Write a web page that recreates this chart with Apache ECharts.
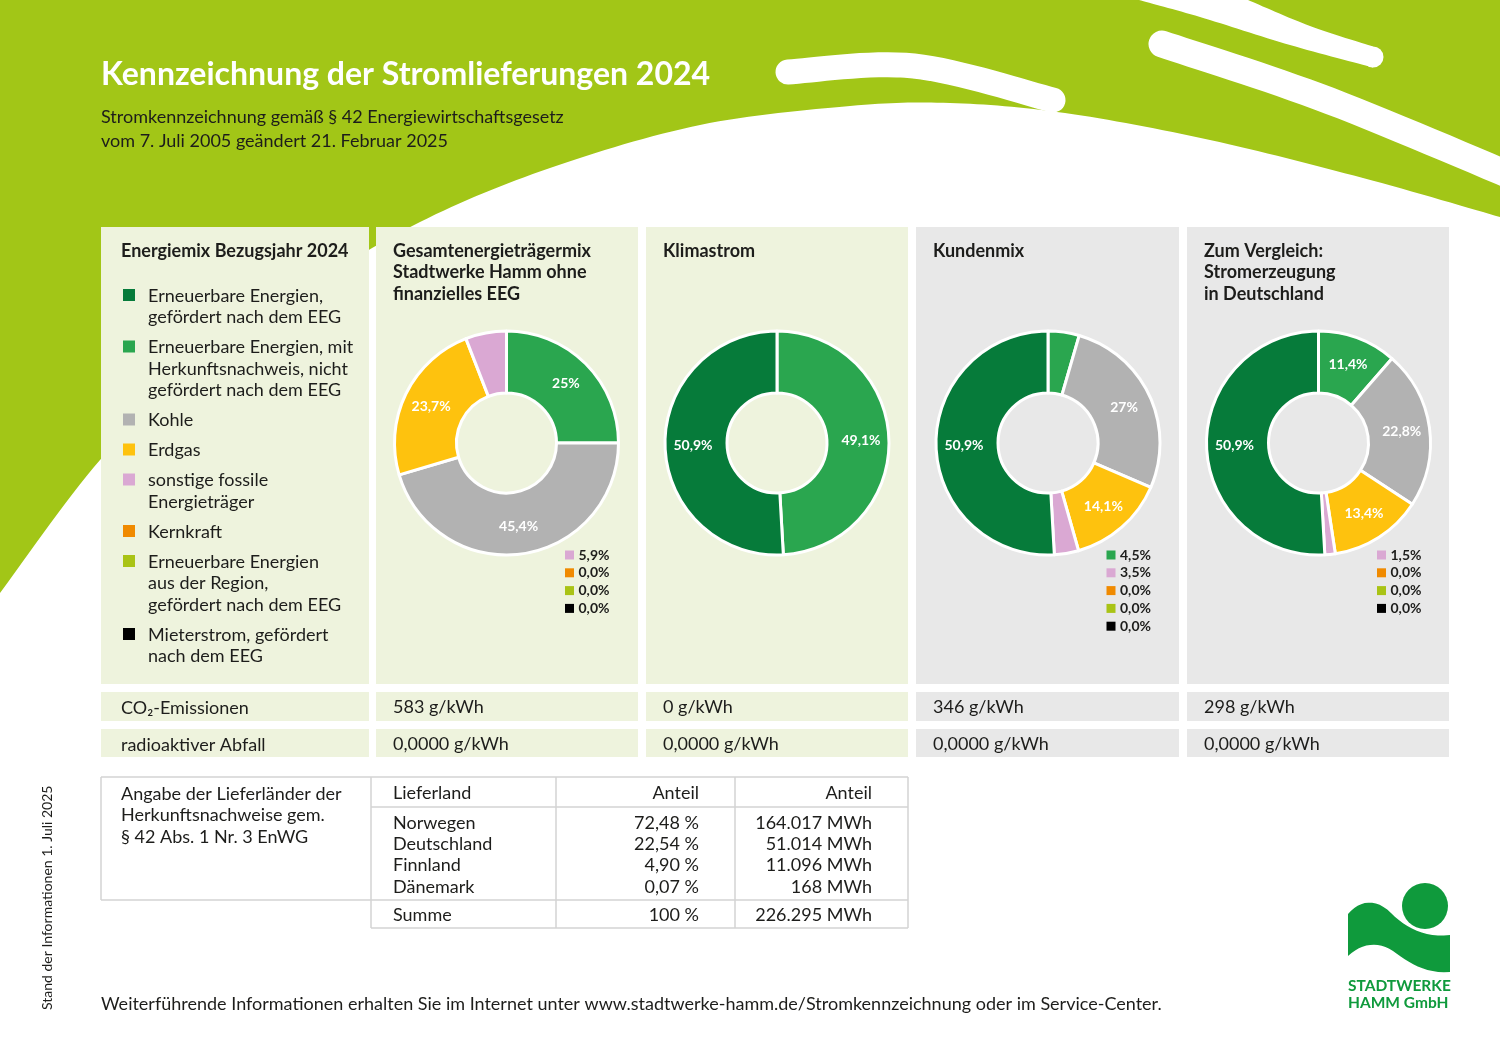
<!DOCTYPE html>
<html><head><meta charset="utf-8">
<script src="https://cdn.jsdelivr.net/npm/echarts@6/dist/echarts.min.js"></script>
<style>html,body{margin:0;padding:0;background:#fff}#c{width:1500px;height:1061px}</style>
</head><body><div id="c"></div>
<script>
// ---------- DATA ----------
const categories = ['Erneuerbare Energien, gefördert nach dem EEG','Erneuerbare Energien, mit Herkunftsnachweis, nicht gefördert nach dem EEG','Kohle','Erdgas','sonstige fossile Energieträger','Kernkraft','Erneuerbare Energien aus der Region, gefördert nach dem EEG','Mieterstrom, gefördert nach dem EEG'];
const legendLines = [['Erneuerbare Energien,','gefördert nach dem EEG'],['Erneuerbare Energien, mit','Herkunftsnachweis, nicht','gefördert nach dem EEG'],['Kohle'],['Erdgas'],['sonstige fossile','Energieträger'],['Kernkraft'],['Erneuerbare Energien','aus der Region,','gefördert nach dem EEG'],['Mieterstrom, gefördert','nach dem EEG']];
const colors = ['#067b3a','#2aa64f','#b2b2b2','#fec20e','#daa8d3','#f08a00','#a9c315','#000000'];
const gesamt      = [null, 25,   45.4, 23.7, 5.9, 0, 0, 0];
const klimastrom  = [50.9, 49.1, null, null, null, null, null, null];
const kundenmix   = [50.9, 4.5,  27,   14.1, 3.5, 0, 0, 0];
const deutschland = [50.9, 11.4, 22.8, 13.4, 1.5, 0, 0, 0];
const sliceOrder = [1,2,3,4,5,6,7,0];
const panelTitles = [['Gesamtenergieträgermix','Stadtwerke Hamm ohne','finanzielles EEG'],['Klimastrom'],['Kundenmix'],['Zum Vergleich:','Stromerzeugung','in Deutschland']];
const co2 = [583, 0, 346, 298];
const radio = [0, 0, 0, 0];
const countries = ['Norwegen','Deutschland','Finnland','Dänemark'];
const shares = [72.48, 22.54, 4.90, 0.07];
const mwh = [164017, 51014, 11096, 168];
const sumShare = 100, sumMwh = 226295;

// ---------- HELPERS ----------
const FONT = 'Lato, "Open Sans", sans-serif';
const TXT = '#1d1d1b';
const g = [];
function rect(x,y,w,h,fill,z){ g.push({type:'rect',z:z||1,shape:{x,y,width:w,height:h},style:{fill}}); }
function line(x1,y1,x2,y2){ g.push({type:'line',z:3,shape:{x1,y1,x2,y2},style:{stroke:'#d3d3d3',lineWidth:1.5}}); }
function text(x,y,str,o){ o=o||{}; g.push({type:'text',z:o.z||4,x,y,rotation:o.rot||0,style:{text:str,fill:o.fill||TXT,
  font:(o.bold?'bold ':'')+(o.size||18)+'px '+FONT,textAlign:o.align||'left',textVerticalAlign:'middle'}}); }
function cubic(p0,c1,c2,p1,n){ const out=[]; for(let i=0;i<=n;i++){const t=i/n,u=1-t;
  out.push([u*u*u*p0[0]+3*u*u*t*c1[0]+3*u*t*t*c2[0]+t*t*t*p1[0], u*u*u*p0[1]+3*u*u*t*c1[1]+3*u*t*t*c2[1]+t*t*t*p1[1]]);} return out; }
function smoothPts(pts){ let out=[]; for(let i=0;i<pts.length-1;i++){const p0=pts[i-1]||pts[i],p1=pts[i],p2=pts[i+1],p3=pts[i+2]||pts[i+1];
  out=out.concat(cubic(p1,[p1[0]+(p2[0]-p0[0])/6,p1[1]+(p2[1]-p0[1])/6],[p2[0]-(p3[0]-p1[0])/6,p2[1]-(p3[1]-p1[1])/6],p2,16));} return out; }
const pct1 = v => v.toFixed(1).replace('.',',')+'%';
const pctIn = v => (v%1===0? String(v) : v.toFixed(1).replace('.',','))+'%';
const de = n => String(n).replace(/\B(?=(\d{3})+(?!\d))/g,'.');

// ---------- BACKGROUND ----------
const GREEN='#a2c617';
const arc = [[1500,217],[1363,178],[1210,140],[1065,113],[950,103],[850,106],[700,125],[550,168],[420,222],[300,293],[200,365],[100,460],[0,593]];
g.push({type:'polygon',z:0,shape:{points:[[0,0],[1500,0]].concat(smoothPts(arc))},style:{fill:GREEN}});
g.push({type:'polyline',z:0,shape:{points:smoothPts([[788,72],[914,66],[1053,100]])},style:{fill:null,stroke:'#fff',lineWidth:25,lineCap:'round'}});
// upper white swoosh (from top edge, rounded end)
g.push({type:'polygon',z:0,shape:{points:[[1139,-1],[1248,-1]].concat(smoothPts([[1248,0],[1310,26],[1373,46.5]]),smoothPts([[1373,67.5],[1290,45],[1200,17],[1139,0]]))},style:{fill:'#fff'}});
g.push({type:'circle',z:0,shape:{cx:1373,cy:57,r:10.5},style:{fill:'#fff'}});
// lower white swoosh (rounded start, runs off right edge)
g.push({type:'polyline',z:0,shape:{points:smoothPts([[1162,44],[1330,101],[1540,188]])},style:{fill:null,stroke:'#fff',lineWidth:27,lineCap:'round'}});

// ---------- HEADER ----------
text(101,75,'Kennzeichnung der Stromlieferungen 2024',{bold:true,size:32,fill:'#fff'});
text(101,117,'Stromkennzeichnung gemäß § 42 Energiewirtschaftsgesetz');
text(101,141,'vom 7. Juli 2005 geändert 21. Februar 2025');

// ---------- PANELS ----------
const LG='#eef3dd', GR='#e8e8e8';
const panelX = [[101,268],[376,262],[646,262],[916,263],[1187,262]];
const panelBg = [LG,LG,LG,GR,GR];
panelX.forEach((p,i)=>{ rect(p[0],227,p[1],457,panelBg[i]); rect(p[0],692,p[1],29,panelBg[i]); rect(p[0],729,p[1],28,panelBg[i]); });

text(121,251,'Energiemix Bezugsjahr 2024',{bold:true});
let ly=295;
legendLines.forEach((ls,i)=>{ rect(123,ly-6,12,12,colors[i],3); ls.forEach((s,k)=>text(148,ly+1+k*21.5,s)); ly+=ls.length*21.5+8.5; });

const charts=[gesamt,klimastrom,kundenmix,deutschland];
const centers=[506.5,777,1048,1318.5];
const CY=443;
const series=[];
charts.forEach((vals,ci)=>{
  const px=panelX[ci+1][0]+17;
  panelTitles[ci].forEach((s,k)=>text(px,251+k*21.5,s,{bold:true}));
  text(px,707,de(co2[ci])+' g/kWh');
  text(px,744,radio[ci].toFixed(4).replace('.',',')+' g/kWh');
  series.push({type:'pie',center:[centers[ci],CY],radius:[50,112],startAngle:90,clockwise:true,silent:true,animation:false,
    itemStyle:{borderColor:'#fff',borderWidth:3},
    label:{show:true,position:'inside',color:'#fff',fontWeight:'bold',fontSize:14,fontFamily:FONT,formatter:p=>p.value>=10?pctIn(p.value):''},
    labelLine:{show:false},emphasis:{disabled:true},
    data:sliceOrder.filter(i=>vals[i]!=null&&vals[i]>0).map(i=>({name:categories[i],value:vals[i],itemStyle:{color:colors[i]}}))});
  let k=0;
  vals.forEach((v,i)=>{ if(v!=null&&v<10){ const yy=555+k*17.8; rect(centers[ci]+58.5,yy-4.5,9,9,colors[i],3);
    text(centers[ci]+72,yy,pct1(v),{bold:true,size:14}); k++; } });
});
text(121,708,'CO₂-Emissionen');
text(121,745,'radioaktiver Abfall');

// ---------- TABLE ----------
line(101,777,908,777); line(101,777,101,900); line(371,777,371,928); line(556,777,556,928); line(735,777,735,928); line(908,777,908,928);
line(371,807,908,807); line(101,900,908,900); line(371,928,908,928);
['Angabe der Lieferländer der','Herkunftsnachweise gem.','§ 42 Abs. 1 Nr. 3 EnWG'].forEach((s,k)=>text(121,794+k*21.5,s));
text(393,793,'Lieferland'); text(699,793,'Anteil',{align:'right'}); text(872,793,'Anteil',{align:'right'});
countries.forEach((c,k)=>{ const yy=823+k*21.3; text(393,yy,c); text(699,yy,shares[k].toFixed(2).replace('.',',')+' %',{align:'right'}); text(872,yy,de(mwh[k])+' MWh',{align:'right'}); });
text(393,915,'Summe'); text(699,915,sumShare+' %',{align:'right'}); text(872,915,de(sumMwh)+' MWh',{align:'right'});

// ---------- FOOTER ----------
text(101,1004,'Weiterführende Informationen erhalten Sie im Internet unter www.stadtwerke-hamm.de/Stromkennzeichnung oder im Service-Center.');
text(47,1010,'Stand der Informationen 1. Juli 2025',{size:14,rot:Math.PI/2});

const LOGO='#0f9a3c';
g.push({type:'circle',z:3,shape:{cx:1425,cy:906,r:23},style:{fill:LOGO}});
const wave=[].concat(cubic([1348,914],[1360,900],[1376,898],[1391,913],12),cubic([1391,913],[1406,928],[1425,938],[1450,935],12),
  cubic([1450,972],[1425,974],[1408,962],[1393,951],12),cubic([1393,951],[1378,941],[1362,943],[1348,956],12));
g.push({type:'polygon',z:3,shape:{points:wave},style:{fill:LOGO}});
text(1348,986,'STADTWERKE',{bold:true,size:15.5,fill:LOGO});
text(1348,1003,'HAMM GmbH',{bold:true,size:15.5,fill:LOGO});

const chart = echarts.init(document.getElementById('c'));
chart.setOption({animation:false,graphic:{elements:g},series});
</script></body></html>
